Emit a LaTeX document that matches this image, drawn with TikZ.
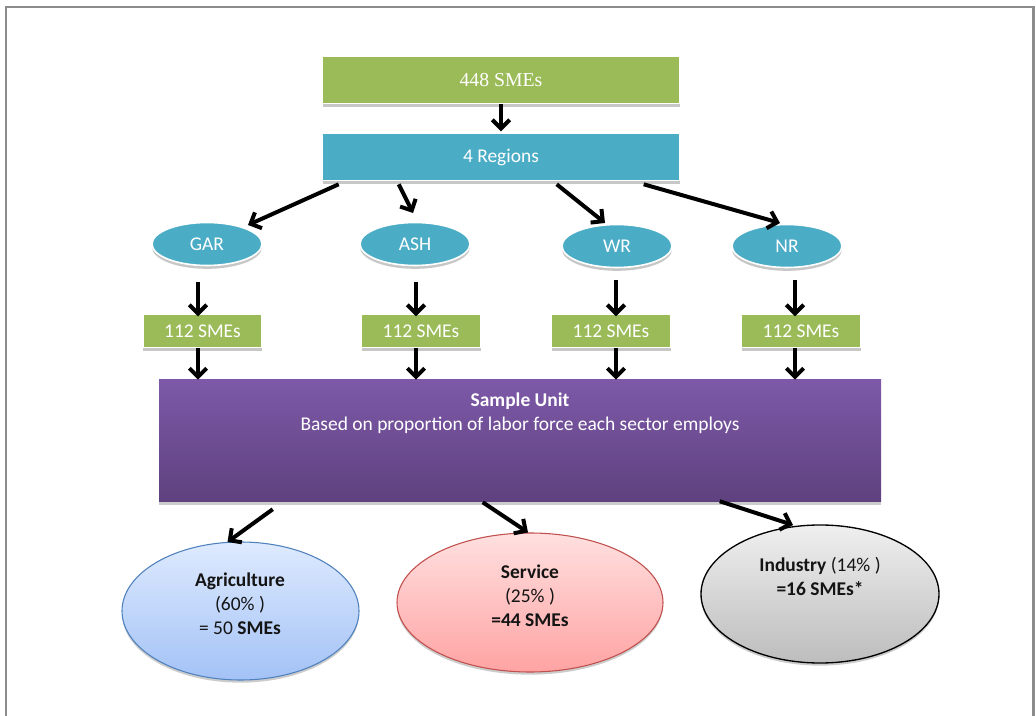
\documentclass[tikz,border=0pt]{standalone}
\usepackage{fontspec}
\setmainfont{Carlito}
\newfontfamily\timesf{Liberation Serif}
\usetikzlibrary{arrows.meta,shapes.geometric,shadows,calc}
\definecolor{sgreen}{HTML}{9BBB59}
\definecolor{sblue}{HTML}{4BACC6}
\definecolor{ptop}{HTML}{7D59A8}
\definecolor{pbot}{HTML}{5E417E}
\definecolor{agtop}{HTML}{DEEAFE}
\definecolor{agbot}{HTML}{A3C2F6}
\definecolor{agline}{HTML}{4F81BD}
\definecolor{setop}{HTML}{FFE0E0}
\definecolor{sebot}{HTML}{FFA3A3}
\definecolor{seline}{HTML}{C0504D}
\definecolor{intop}{HTML}{EFEFEF}
\definecolor{inbot}{HTML}{BDBDBD}
\definecolor{frame}{HTML}{8C8C8C}
\begin{document}
\begin{tikzpicture}[x=0.75pt,y=-0.75pt,
  fs/.style={font=\fontsize{14.6}{18}\selectfont},
  sh/.style={general shadow={fill=black!22,shadow yshift=-2.5pt}},
  rbox/.style={rectangle,sh,draw=white,line width=1.2pt,inner sep=0pt,fs,text=white},
  gbig/.style={rbox,fill=sgreen,minimum width=357*0.75pt,minimum height=47*0.75pt},
  bbig/.style={rbox,fill=sblue,minimum width=357*0.75pt,minimum height=47*0.75pt},
  gsmall/.style={rbox,fill=sgreen,minimum width=119*0.75pt,minimum height=33*0.75pt},
  reg/.style={ellipse,sh,fill=sblue,draw=white,line width=1.2pt,inner sep=0pt,
    minimum width=110*0.75pt,minimum height=43*0.75pt,fs,text=white},
  sect/.style={ellipse,general shadow={fill=black!20,shadow yshift=-2pt},line width=0.8pt,inner sep=0pt},
  btxt/.style={fs,align=center,text=black!92},
  arr/.style={draw=black,line width=3pt,-{Straight Barb[length=6.5pt,width=13pt]}}]
\useasboundingbox (0,0) rectangle (1036,716);
% frame
\draw[frame,line width=1.6pt] (6,716) -- (6,7) -- (1033.5,7) -- (1033.5,716);

% top boxes
\node[gbig] (top) at (501,80) {\timesf\fontsize{14.8}{18}\selectfont 448 SMEs};
\node[bbig] (regs) at (501,157) {4 Regions};
\draw[arr] (top.south) -- ([yshift=1pt]regs.north);

% regions
\node[reg] (gar) at (207,244) {GAR};
\node[reg] (ash) at (415,244) {ASH};
\node[reg] (wr) at (617,246) {WR};
\node[reg] (nr) at (787,246) {NR};

\draw[arr] ($(regs.south west)+(17,3)$) -- ($(gar.center)+(41,-19)$);
\draw[arr] ($(regs.south west)+(77,3)$) -- ($(ash.center)+(-2,-31)$);
\draw[arr] ($(regs.south west)+(235,3)$) -- ($(wr.center)+(-12,-23)$);
\draw[arr] ($(regs.south west)+(322,3)$) -- ($(nr.center)+(-7,-23)$);

% 112 boxes
\node[gsmall] (bgar) at (202.5,331) {112 SMEs};
\node[gsmall] (bash) at (421,331) {112 SMEs};
\node[gsmall] (bwr) at (611,331) {112 SMEs};
\node[gsmall] (bnr) at (801,331) {112 SMEs};

% purple box
\node[rectangle,inner sep=0pt,top color=ptop,bottom color=pbot,
  general shadow={fill=black!20,shadow yshift=-2pt},
  minimum width=722*0.75pt,minimum height=122*0.75pt] (pu) at (520,441) {};
\node[btxt,text=white] (putxt) at (520,413) {\textbf{Sample Unit}\\Based on proportion of labor force each sector employs};

\coordinate (xa) at (198,0);
\coordinate (xb) at (416,0);
\coordinate (xc) at (616,0);
\coordinate (xd) at (795,0);
\draw[arr,shorten <=12pt] (gar.south -| xa) -- ([yshift=-2pt]bgar.north -| xa);
\draw[arr,shorten <=12pt] (ash.south -| xb) -- ([yshift=-2pt]bash.north -| xb);
\draw[arr,shorten <=9pt] (wr.south -| xc) -- ([yshift=-2pt]bwr.north -| xc);
\draw[arr,shorten <=9pt] (nr.south -| xd) -- ([yshift=-2pt]bnr.north -| xd);
\draw[arr] (bgar.south -| xa) -- (pu.north -| xa);
\draw[arr] (bash.south -| xb) -- (pu.north -| xb);
\draw[arr] (bwr.south -| xc) -- (pu.north -| xc);
\draw[arr] (bnr.south -| xd) -- (pu.north -| xd);

% sector ellipses
\node[sect,top color=agtop,bottom color=agbot,draw=agline,
  minimum width=237*0.75pt,minimum height=138*0.75pt] (agr) at (240.5,611) {};
\node[sect,top color=setop,bottom color=sebot,draw=seline,
  minimum width=266*0.75pt,minimum height=139*0.75pt] (ser) at (530,602.5) {};
\node[sect,top color=intop,bottom color=inbot,draw=black,line width=1pt,
  minimum width=238*0.75pt,minimum height=138*0.75pt] (ind) at (820,594) {};

\node[btxt] (agrtxt) at (240,604) {\textbf{Agriculture}\\(60\% )\\= 50 \textbf{SMEs}};
\node[btxt] (sertxt) at (530,596) {\textbf{Service}\\(25\% )\\\textbf{=44 SMEs}};
\node[btxt] (indtxt) at (820,576) {\textbf{Industry} (14\% )\\\textbf{=16 SMEs*}};

\draw[arr] ($(pu.south west)+(114,7)$) -- ($(agr.center)+(-13,-69)$);
\draw[arr] ($(pu.south west)+(324,0)$) -- ($(ser.center)+(-2,-70)$);
\draw[arr] ($(pu.south west)+(561,-1)$) -- ($(ind.center)+(-27,-69)$);
\end{tikzpicture}
\end{document}
